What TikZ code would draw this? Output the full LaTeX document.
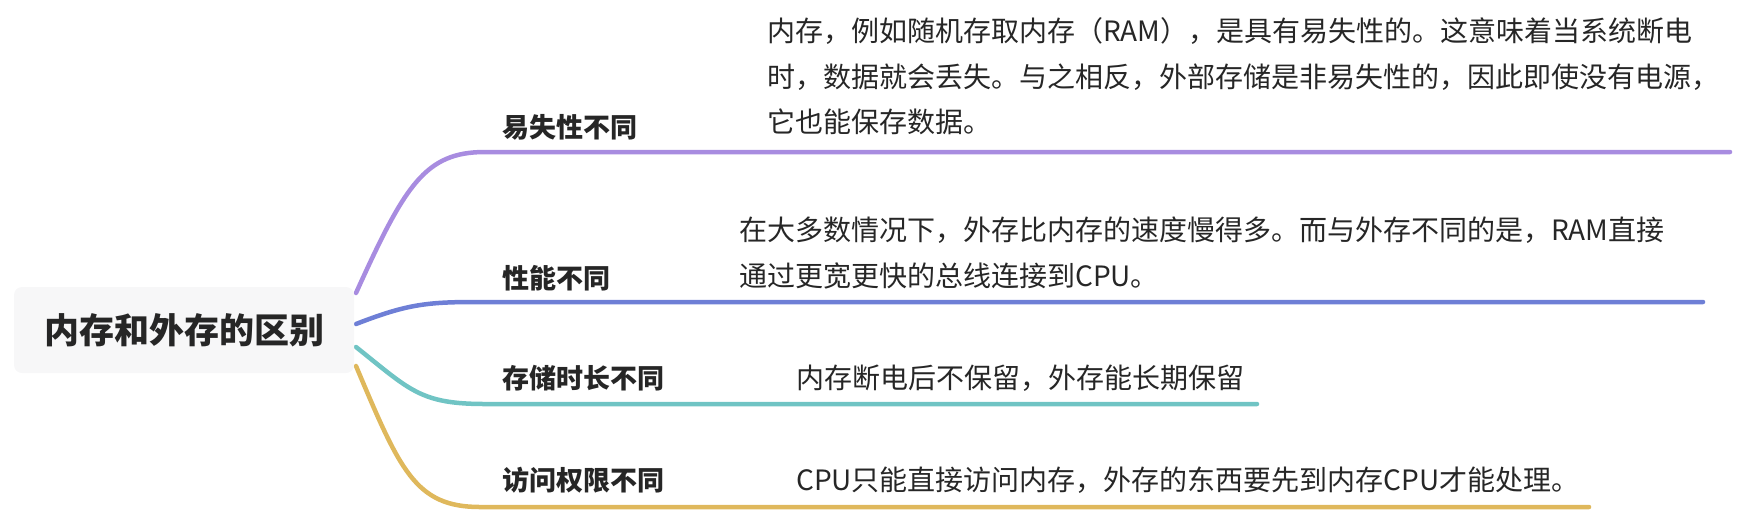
\documentclass[tikz,border=0pt]{standalone}
\usepackage{fontspec}
\newfontfamily\cjk{Noto Sans CJK SC}
\definecolor{cPurple}{RGB}{168,140,224}
\definecolor{cBlue}{RGB}{110,127,214}
\definecolor{cTeal}{RGB}{112,196,196}
\definecolor{cGold}{RGB}{223,184,92}
\definecolor{cText}{RGB}{38,38,38}
\definecolor{cBox}{RGB}{247,247,248}
\tikzset{
  rootbox/.style={fill=cBox, rounded corners=8pt, inner sep=0pt, minimum width=340pt, minimum height=86pt, text=cText, font=\cjk\bfseries\fontsize{35}{40}\selectfont},
  branchlabel/.style={anchor=base west, inner sep=0pt, text=cText, font=\cjk\bfseries\fontsize{27}{32}\selectfont},
  desc/.style={inner sep=0pt, text=cText, align=left, font=\cjk\fontsize{28}{45.5}\selectfont},
  branch/.style={line width=4.5pt, line cap=round}
}
\begin{document}
\begin{tikzpicture}[x=1pt, y=-1pt]
\useasboundingbox (0,0) rectangle (1742,512);
% start / end coordinates
\coordinate (s1) at (356,293);
\coordinate (s2) at (356,324);
\coordinate (s3) at (356,347);
\coordinate (s4) at (356,366);
\coordinate (h1) at (485,152);
\coordinate (h2) at (475,302);
\coordinate (h3) at (485,404);
\coordinate (h4) at (480,507);
\coordinate (e1) at (1730,152);
\coordinate (e2) at (1703,302);
\coordinate (e3) at (1257,404);
\coordinate (e4) at (1589,507);
\draw[branch, cPurple] (s1) .. controls (405,185) and (425,152) .. (h1) -- (e1);
\draw[branch, cBlue] (s2) .. controls (405,305) and (425,302) .. (h2) -- (e2);
\draw[branch, cTeal] (s3) .. controls (410,390) and (420,404) .. (h3) -- (e3);
\draw[branch, cGold] (s4) .. controls (400,470) and (415,507) .. (h4) -- (e4);
% root
\node[rootbox] (root) at (184,330) {内存和外存的区别};
% labels
\node[branchlabel] (l1) at (502,137) {易失性不同};
\node[branchlabel] (l2) at (502,288) {性能不同};
\node[branchlabel] (l3) at (502,388) {存储时长不同};
\node[branchlabel] (l4) at (502,490) {访问权限不同};
% descriptions
\node[desc, anchor=north west] (d1) at (767,9.8) {\strut 内存，例如随机存取内存（RAM），是具有易失性的。这意味着当系统断电\\\strut 时，数据就会丢失。与之相反，外部存储是非易失性的，因此即使没有电源，\\\strut 它也能保存数据。};
\node[desc, anchor=north west] (d2) at (739,208.8) {\strut 在大多数情况下，外存比内存的速度慢得多。而与外存不同的是，RAM直接\\\strut 通过更宽更快的总线连接到CPU。};
\node[desc, anchor=base west] (d3) at (796,388.6) {内存断电后不保留，外存能长期保留};
\node[desc, anchor=base west] (d4) at (796,490.6) {CPU只能直接访问内存，外存的东西要先到内存CPU才能处理。};
\end{tikzpicture}
\end{document}
